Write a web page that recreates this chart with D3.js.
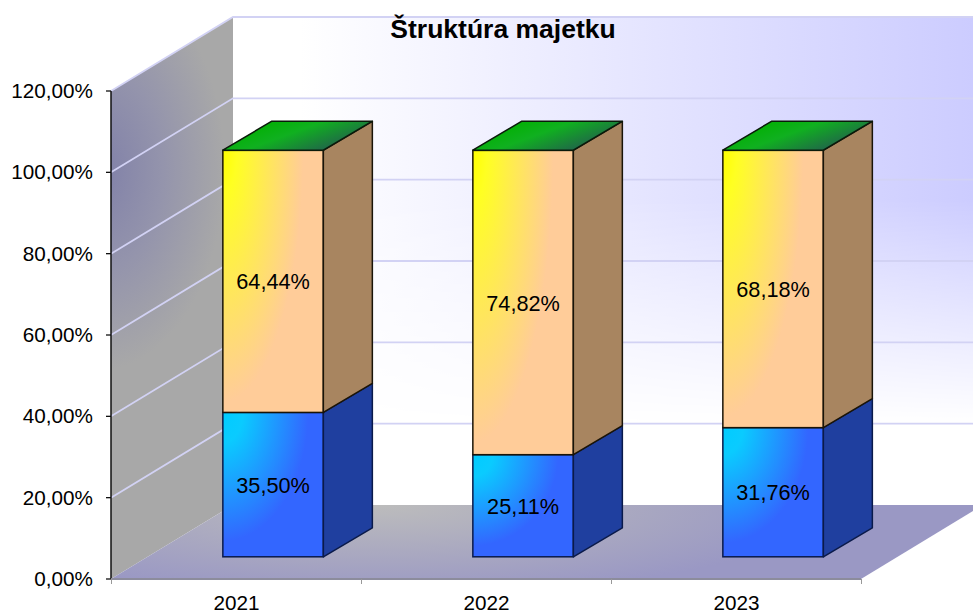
<!DOCTYPE html>
<html><head><meta charset="utf-8">
<script src="https://cdn.jsdelivr.net/npm/d3@7"></script>
<style>html,body{margin:0;background:#fff;overflow:hidden}svg{display:block}text{font-family:"Liberation Sans",Arial,sans-serif;fill:#000}</style>
</head><body><svg id="c" width="973" height="613"></svg>
<script>
const categories = ["2021","2022","2023"];
const assetA = [35.50,25.11,31.76];
const assetB = [64.44,74.82,68.18];
const assetC = [0.06,0.07,0.06];
const yTicks = [0,20,40,60,80,100,120];
const title = "Štruktúra majetku";

const fmt = v => v.toFixed(2).replace(".",",")+"%";
const svg = d3.select("#c");
const defs = svg.append("defs");
function addStops(g,stops){stops.forEach(([o,c])=>g.append("stop").attr("offset",o).attr("stop-color",c));}
function grad(id,x1,y1,x2,y2,stops,user){
  const g=defs.append("linearGradient").attr("id",id).attr("x1",x1).attr("y1",y1).attr("x2",x2).attr("y2",y2);
  if(user) g.attr("gradientUnits","userSpaceOnUse");
  addStops(g,stops);
}
function radial(id,sy,stops){
  const g=defs.append("radialGradient").attr("id",id).attr("cx",0).attr("cy",0).attr("r",1).attr("fx",0).attr("fy",0)
    .attr("gradientTransform",`scale(1,${sy})`);
  addStops(g,stops);
}
function radialUser(id,tx,ty,sy,r,stops){
  const g=defs.append("radialGradient").attr("id",id).attr("gradientUnits","userSpaceOnUse")
    .attr("cx",0).attr("cy",0).attr("r",r).attr("gradientTransform",`translate(${tx},${ty}) scale(1,${sy})`);
  addStops(g,stops);
}
grad("gBackH",300,0,973,0,[[0,"#ffffff"],[1,"#ccccff"]],true);
grad("gBackV",0,200,0,424,[[0,"#ffffff"],[1,"#000000"]],true);
radialUser("gSide",100,170,1.6,125,[[0,"#8080a8"],[0.5,"#9494ac"],[1,"#a8a8a8"]]);
radialUser("gFloor",380,505,0.2,450,[[0,"#bcbcbc"],[1,"#9a98c4"]]);
radial("gYel",1.2,[[0,"#ffff00"],[0.14,"#ffff22"],[0.8,"#ffcc99"],[1,"#ffcc99"]]);
radial("gBlue",1.05,[[0,"#00ccff"],[0.2,"#0acbff"],[0.85,"#3366ff"],[1,"#3366ff"]]);
grad("gTop",0.25,0,1,0.4,[[0,"#00b000"],[0.45,"#10b020"],[1,"#206848"]]);

const x = d3.scaleBand().domain(categories).range([111.5,861.5]).paddingInner(0).paddingOuter(0);
const y = d3.scaleLinear().domain([0,120]).range([579,91]);
const wall = {dx:122,dy:-74};
const barW = 100.5, barDx = 49, barDy = -29, front = 0.30;
const line = d3.line();
const fs = 20.7, fsLabel = 21.7;

defs.append("mask").attr("id","mBack").attr("maskUnits","userSpaceOnUse").attr("x",0).attr("y",0).attr("width",973).attr("height",613)
  .append("rect").attr("width",973).attr("height",613).attr("fill","url(#gBackV)");

const gw = svg.append("g");
const wallX = 111+wall.dx;
gw.append("rect").attr("x",wallX).attr("y",y(120)+wall.dy).attr("width",973-wallX).attr("height",y(0)-y(120))
  .attr("fill","url(#gBackH)").attr("mask","url(#mBack)");
gw.append("path").attr("fill","url(#gSide)").attr("d",line([[111,y(0)],[111,y(120)],[wallX,y(120)+wall.dy],[wallX,y(0)+wall.dy]])+"Z");
gw.append("path").attr("fill","url(#gFloor)").attr("d",line([[111,y(0)],[861,y(0)],[861+wall.dx,y(0)+wall.dy],[wallX,y(0)+wall.dy]])+"Z");
yTicks.slice(1).forEach(t=>{
  gw.append("path").attr("fill","none").attr("stroke","#d2d2f4").attr("stroke-width",1.8)
    .attr("d",line([[111,y(t)],[wallX,y(t)+wall.dy],[973,y(t)+wall.dy]]));
});
svg.append("line").attr("x1",111).attr("x2",111).attr("y1",y(0)).attr("y2",y(120)).attr("stroke","#111").attr("stroke-width",1.5);
yTicks.forEach(t=>{
  svg.append("line").attr("x1",106).attr("x2",111).attr("y1",y(t)).attr("y2",y(t)).attr("stroke","#111").attr("stroke-width",1.3);
  svg.append("text").attr("x",93).attr("y",y(t)+7).attr("text-anchor","end").attr("font-size",fs).text(fmt(t));
});
svg.append("line").attr("x1",111).attr("x2",861).attr("y1",y(0)).attr("y2",y(0)).attr("stroke","#8c8c9c").attr("stroke-width",2);
[...categories.map(c=>x(c)),861.5].forEach(px=>{
  svg.append("line").attr("x1",px).attr("x2",px).attr("y1",y(0)).attr("y2",y(0)+5).attr("stroke","#999").attr("stroke-width",1);
});
categories.forEach(c=>{
  svg.append("text").attr("x",x(c)+x.bandwidth()/2).attr("y",610).attr("text-anchor","middle").attr("font-size",fs).text(c);
});
const s = 488/120;
categories.forEach((c,i)=>{
  const cx = x(c)+x.bandwidth()/2 + front*wall.dx;
  const x0 = cx-barW/2, x1 = cx+barW/2;
  const base = y(0)+front*wall.dy;
  const vals = [[assetA[i],"url(#gBlue)","#1f3f9f","#0a1a4a"],[assetB[i],"url(#gYel)","#a88560","#1a1408"]];
  let cum = 0;
  vals.forEach(([v,fill,side,st])=>{
    const yb = base-cum*s, yt = base-(cum+v)*s;
    svg.append("rect").attr("x",x0).attr("y",yt).attr("width",barW).attr("height",yb-yt).attr("fill",fill).attr("stroke",st).attr("stroke-width",1.5);
    svg.append("path").attr("fill",side).attr("stroke",st).attr("stroke-width",1.5).attr("stroke-linejoin","round")
      .attr("d",line([[x1,yb],[x1,yt],[x1+barDx,yt+barDy],[x1+barDx,yb+barDy]])+"Z");
    svg.append("text").attr("x",cx).attr("y",(yb+yt)/2+8).attr("text-anchor","middle").attr("font-size",fsLabel).text(fmt(v));
    cum += v;
  });
  const yt = base-(cum+assetC[i])*s;
  svg.append("path").attr("fill","url(#gTop)").attr("stroke","#0a1a0a").attr("stroke-width",1.5).attr("stroke-linejoin","round")
    .attr("d",line([[x0,yt],[x1,yt],[x1+barDx,yt+barDy],[x0+barDx,yt+barDy]])+"Z");
});
svg.append("text").attr("x",503).attr("y",38).attr("text-anchor","middle").attr("font-size",26.5).attr("font-weight","bold").text(title);
</script></body></html>
